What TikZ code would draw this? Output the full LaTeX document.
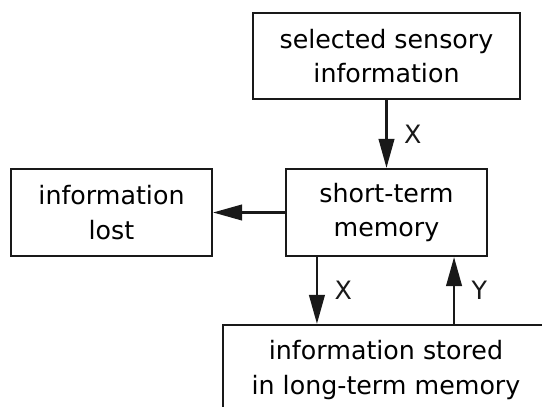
\documentclass[tikz,border=0pt]{standalone}
\usepackage{fontspec}
\setmainfont{DejaVu Sans}
\usetikzlibrary{arrows.meta}

\begin{document}
\begin{tikzpicture}[
	box/.style={shape=rectangle,draw=black!90,line width=1.2pt,align=center,inner sep=0pt},
	arr/.style={draw=black!90,line width=1.4pt,-{Triangle[length=0.58cm,width=0.31cm]}},
	lbl/.style={right,xshift=6pt,text=black!90},
	font=\fontsize{14.4}{19.5}\selectfont]
	\clip (0,0) rectangle (10.84,8.14);
	\node[box,minimum width=5.34cm,minimum height=1.72cm] (SENS) at (7.73,7.02) {selected sensory\\information};
	\node[box,minimum width=4.02cm,minimum height=1.74cm] (STM) at (7.73,3.89) {short-term\\memory};
	\node[box,minimum width=4.02cm,minimum height=1.74cm] (LOST) at (2.23,3.89) {information\\lost};
	\node[box,minimum width=6.52cm,minimum height=1.8cm] (LTM) at (7.72,0.74) {information stored\\in long-term memory};
	\draw[arr] (SENS) -- (STM) node[midway,lbl] {X};
	\draw[arr] (STM) -- (LOST);
	\draw[arr] ([xshift=0.64cm]STM.south west) -- ([xshift=0.64cm]STM.south west |- LTM.north) node[midway,lbl] {X};
	\draw[arr] ([xshift=-0.68cm]STM.south east |- LTM.north) -- ([xshift=-0.68cm]STM.south east) node[midway,lbl] {Y};
\end{tikzpicture}
\end{document}
